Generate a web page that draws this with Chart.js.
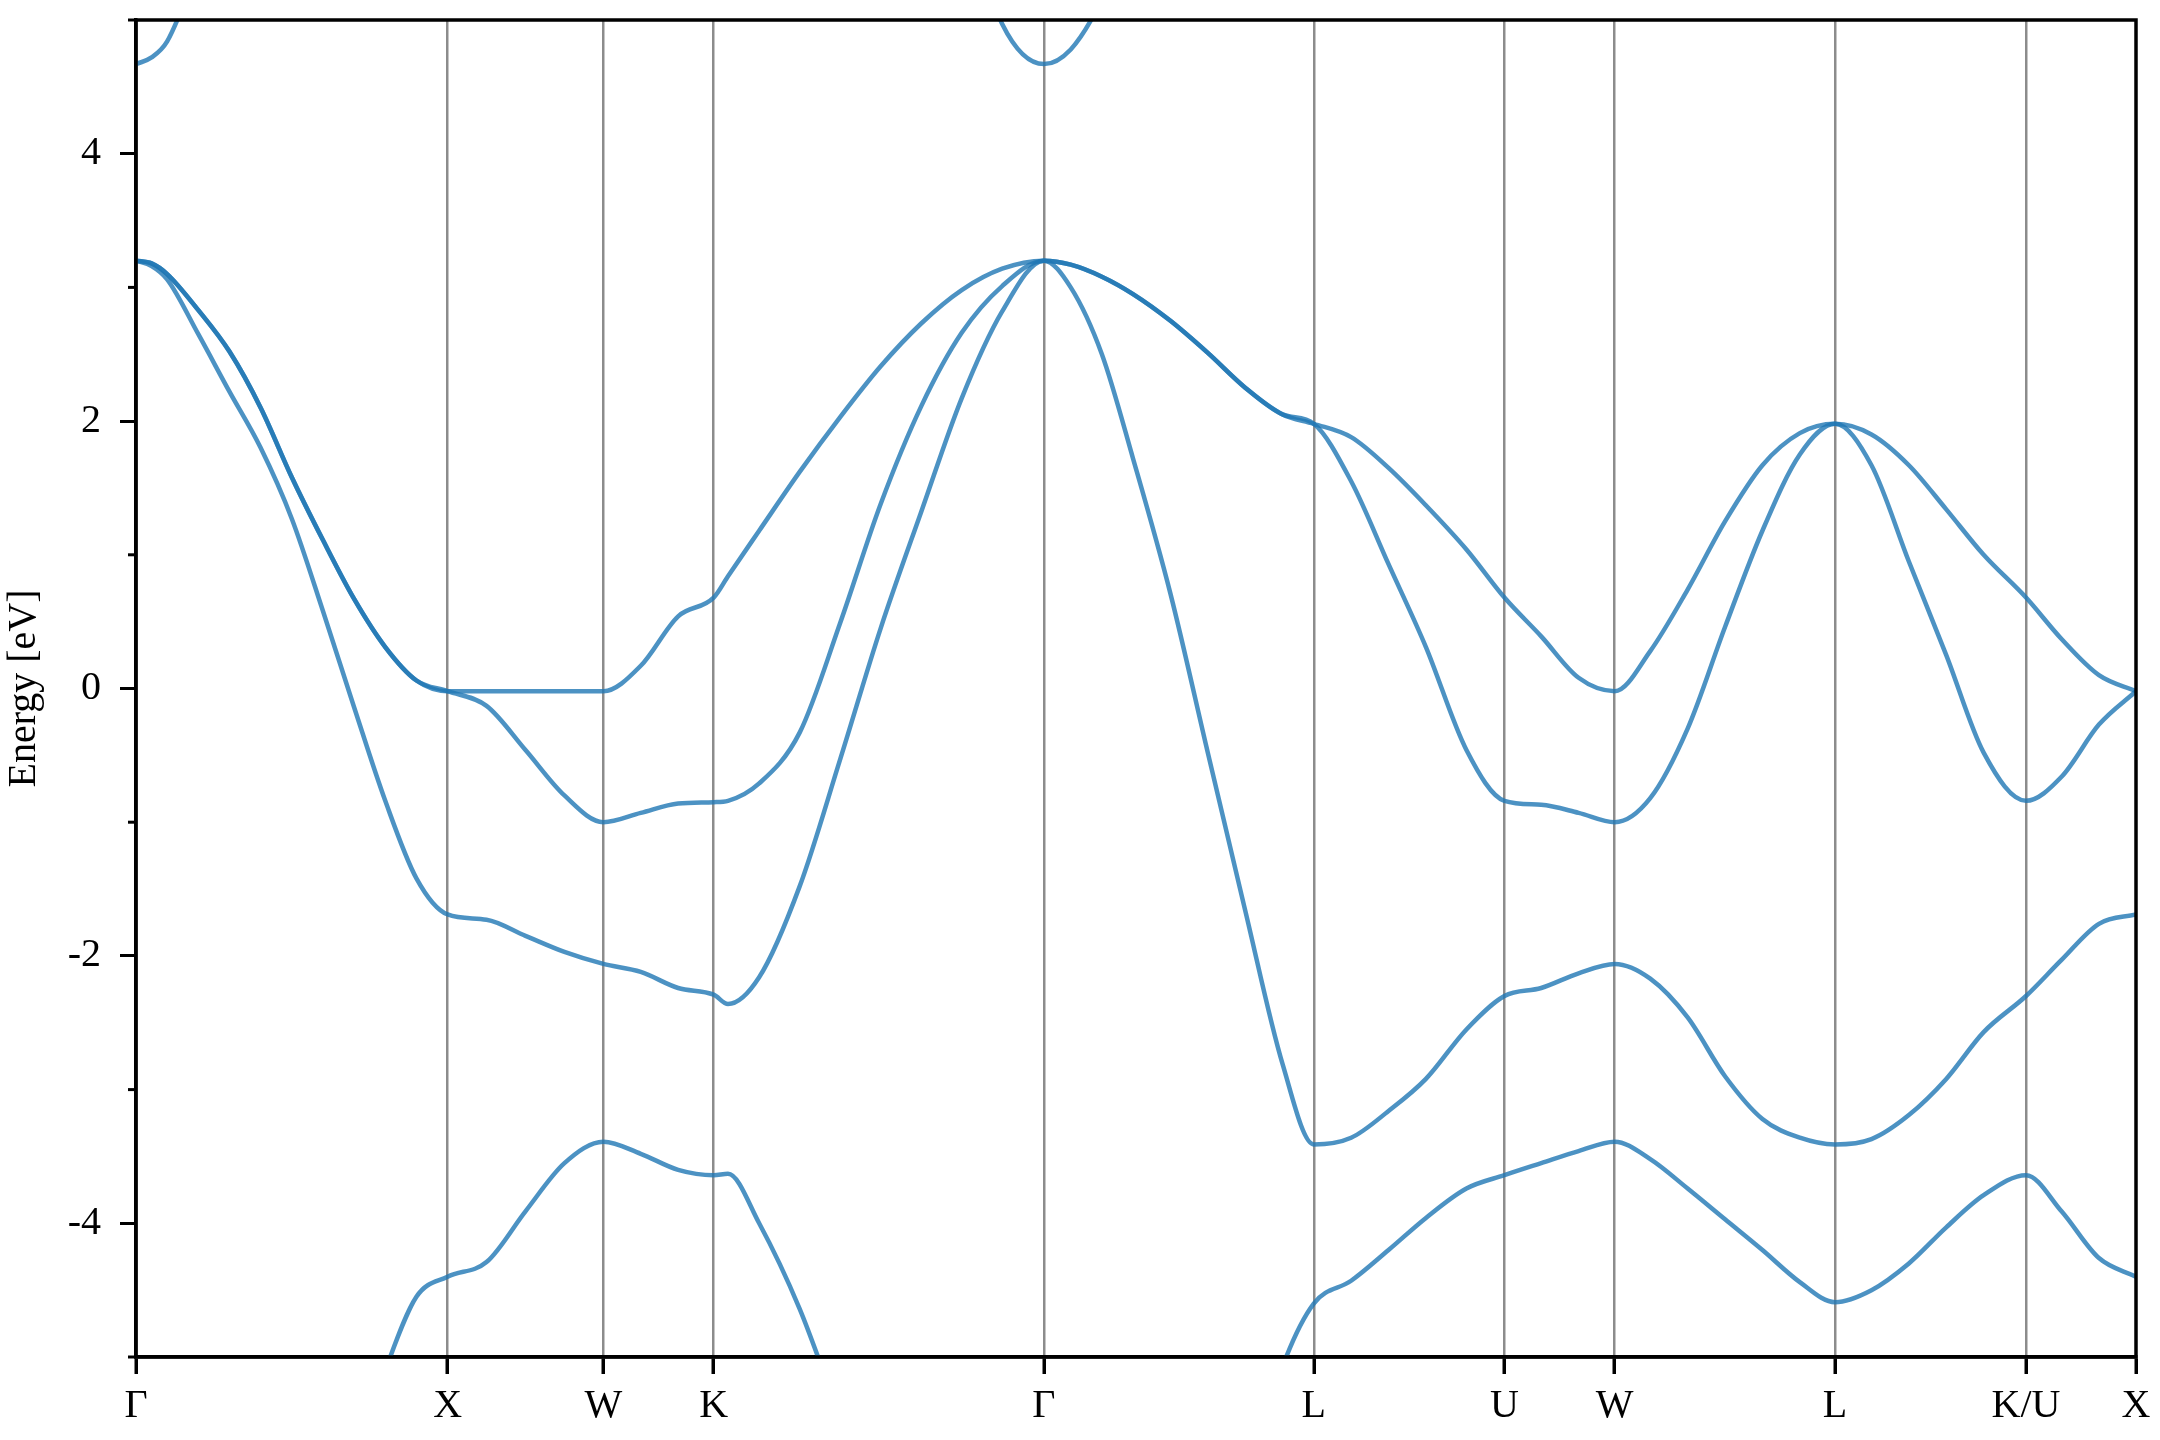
<!DOCTYPE html>
<html>
<head>
<meta charset="utf-8">
<script src="https://cdn.jsdelivr.net/npm/chart.js@4.4.1/dist/chart.umd.min.js"></script>
<style>
  html, body { margin: 0; padding: 0; background: #fff; }
  canvas { display: block; }
</style>
</head>
<body>
<canvas id="bandas" width="2160" height="1440"></canvas>
<script>
// camino en k:  Γ-X | X-W | W-K | K-Γ | Γ-L | L-U | U-W | W-L | L-K | K-X
const kPath = [
  0, 0.05, 0.1, 0.2, 0.3, 0.4, 0.5, 0.6, 0.7, 0.8, 0.9, 1.0,
  1.125, 1.25, 1.375, 1.5,
  1.62, 1.74, 1.854,
  1.90, 2.0, 2.13, 2.26, 2.39, 2.52, 2.65, 2.78, 2.914,
  3.0, 3.1, 3.2, 3.32, 3.44, 3.56, 3.68, 3.78,
  3.9, 4.02, 4.14, 4.27, 4.392,
  4.51, 4.63, 4.746,
  4.86, 4.98, 5.10, 5.22, 5.34, 5.453,
  5.57, 5.69, 5.81, 5.93, 6.066,
  6.18, 6.30, 6.419
];

const kTicks = [0, 1, 1.5, 1.854, 2.914, 3.78, 4.392, 4.746, 5.453, 6.066, 6.419];
const kLabels = ['Γ', 'X', 'W', 'K', 'Γ', 'L', 'U', 'W', 'L', 'K/U', 'X'];

const band1 = [
  -8.5, -8.49, -8.45, -8.3, -8.0, -7.6, -7.1, -6.5, -5.8, -5.1, -4.55, -4.40,
  -4.29, -3.91, -3.55, -3.39,
  -3.48, -3.60, -3.64,
  -3.63, -4.00, -4.64, -5.45, -6.2, -6.9, -7.5, -8.1, -8.5,
  -8.45, -8.3, -8.0, -7.5, -6.8, -6.0, -5.07, -4.60,
  -4.43, -4.20, -3.96, -3.74, -3.64,
  -3.55, -3.46, -3.39,
  -3.52, -3.74, -3.97, -4.20, -4.44, -4.59,
  -4.50, -4.30, -4.03, -3.79, -3.64,
  -3.91, -4.26, -4.40
];

const band2 = [
  3.20, 3.16, 3.06, 2.65, 2.22, 1.80, 1.27, 0.58, -0.14, -0.84, -1.42, -1.69,
  -1.73, -1.85, -1.97, -2.06,
  -2.12, -2.24, -2.29,
  -2.36, -2.16, -1.48, -0.53, 0.45, 1.32, 2.17, 2.82, 3.20,
  3.00, 2.50, 1.72, 0.71, -0.48, -1.66, -2.81, -3.41,
  -3.36, -3.16, -2.92, -2.55, -2.30,
  -2.24, -2.13, -2.06,
  -2.17, -2.46, -2.90, -3.22, -3.36, -3.41,
  -3.37, -3.19, -2.92, -2.57, -2.30,
  -2.03, -1.76, -1.69
];

const band3 = [
  3.20, 3.18, 3.10, 2.83, 2.52, 2.10, 1.58, 1.11, 0.67, 0.31, 0.06, -0.02,
  -0.13, -0.46, -0.80, -1.00,
  -0.93, -0.86, -0.85,
  -0.84, -0.71, -0.33, 0.49, 1.38, 2.11, 2.66, 3.01, 3.20,
  3.17, 3.08, 2.95, 2.75, 2.51, 2.25, 2.05, 1.98,
  1.55, 0.93, 0.31, -0.46, -0.84,
  -0.87, -0.93, -1.00,
  -0.82, -0.30, 0.46, 1.18, 1.75, 1.98,
  1.67, 0.95, 0.25, -0.48, -0.84,
  -0.66, -0.27, -0.02
];

const band4 = [
  3.20, 3.18, 3.10, 2.83, 2.52, 2.10, 1.58, 1.11, 0.67, 0.31, 0.06, -0.02,
  -0.02, -0.02, -0.02, -0.02,
  0.17, 0.54, 0.68,
  0.84, 1.18, 1.62, 2.03, 2.41, 2.73, 2.98, 3.14, 3.20,
  3.17, 3.08, 2.95, 2.75, 2.51, 2.25, 2.05, 1.98,
  1.88, 1.65, 1.37, 1.04, 0.68,
  0.39, 0.08, -0.02,
  0.28, 0.74, 1.25, 1.67, 1.91, 1.98,
  1.90, 1.67, 1.34, 1.00, 0.68,
  0.37, 0.10, -0.02
];

const band5 = [
  4.67, 4.72, 4.84, 5.4, 6.0, 6.5, 6.9, 7.2, 7.4, 7.5, 7.6, 7.6,
  7.6, 7.5, 7.5, 7.4,
  7.4, 7.3, 7.2,
  7.2, 7.1, 7.0, 6.9, 6.8, 6.5, 5.9, 4.97, 4.67,
  4.78, 5.15, 5.7, 6.2, 6.6, 6.9, 7.0, 7.1,
  7.1, 7.0, 7.0, 6.9, 6.9,
  7.0, 7.1, 7.2,
  7.2, 7.1, 7.1, 7.0, 7.0, 7.1,
  7.1, 7.0, 7.0, 6.9, 6.9,
  7.1, 7.3, 7.4
];

const bands = [band1, band2, band3, band4, band5];
const energyMin = -5;
const energyMax = 5;

const fuente = "'Liberation Serif', 'Times New Roman', serif";

const marcoPlugin = {
  id: 'marco',
  afterDraw(chart) {
    const ctx = chart.ctx;
    const area = chart.chartArea;
    const yScale = chart.scales.y;
    ctx.save();
    ctx.strokeStyle = '#000';
    ctx.lineWidth = 3.5;
    ctx.strokeRect(area.left, area.top, area.right - area.left, area.bottom - area.top);
    // ticks menores en valores impares
    ctx.lineWidth = 3;
    yScale.ticks.forEach(function(t) {
      if (t.value % 2 !== 0) {
        const y = yScale.getPixelForValue(t.value);
        ctx.beginPath();
        ctx.moveTo(area.left - 8, y);
        ctx.lineTo(area.left, y);
        ctx.stroke();
      }
    });
    ctx.restore();
  }
};

const datasets = bands.map(function(band) {
  return {
    data: kPath.map(function(k, i) { return { x: k, y: band[i] }; }),
    borderColor: 'rgba(31, 119, 180, 0.8)',
    borderWidth: 4.5,
    pointRadius: 0,
    fill: false,
    cubicInterpolationMode: 'monotone',
    capBezierPoints: false
  };
});

const ctx = document.getElementById('bandas').getContext('2d');
new Chart(ctx, {
  type: 'line',
  data: { datasets: datasets },
  options: {
    responsive: false,
    animation: false,
    devicePixelRatio: 1,
    layout: { padding: { top: 20, right: 24, left: 0, bottom: 0 } },
    plugins: {
      legend: { display: false },
      tooltip: { enabled: false }
    },
    scales: {
      x: {
        type: 'linear',
        min: kTicks[0],
        max: kTicks[kTicks.length - 1],
        afterBuildTicks: function(scale) {
          scale.ticks = kTicks.map(function(v) { return { value: v }; });
        },
        afterFit: function(scale) {
          scale.height = 83;
          scale.paddingLeft = 0;
          scale.paddingRight = 0;
        },
        ticks: {
          autoSkip: false,
          maxRotation: 0,
          padding: 8,
          color: '#000',
          font: { family: fuente, size: 40 },
          callback: function(value, index) { return kLabels[index]; }
        },
        grid: {
          drawOnChartArea: true,
          drawTicks: true,
          tickLength: 17,
          tickWidth: 3.5,
          tickColor: '#000',
          lineWidth: 2.5,
          color: function(c) {
            if (c.index === 0 || c.index === kTicks.length - 1) return 'rgba(0,0,0,0)';
            return 'rgba(0,0,0,0.45)';
          }
        },
        border: { display: true, color: '#000', width: 3.5 }
      },
      y: {
        min: energyMin,
        max: energyMax,
        afterFit: function(scale) {
          scale.width = 136;
          scale.paddingTop = 0;
          scale.paddingBottom = 0;
        },
        ticks: {
          stepSize: 1,
          padding: 19,
          color: '#000',
          font: { family: fuente, size: 40 },
          callback: function(value) { return value % 2 === 0 ? String(value) : ''; }
        },
        grid: {
          drawOnChartArea: false,
          drawTicks: true,
          tickLength: 16,
          tickWidth: 3,
          tickColor: function(c) {
            return c.tick && c.tick.value % 2 === 0 ? '#000' : 'rgba(0,0,0,0)';
          }
        },
        border: { display: true, color: '#000', width: 3.5 },
        title: {
          display: true,
          text: 'Energy [eV]',
          color: '#000',
          font: { family: fuente, size: 40 },
          padding: { top: 0, bottom: 0 }
        }
      }
    }
  },
  plugins: [marcoPlugin]
});
</script>
</body>
</html>
